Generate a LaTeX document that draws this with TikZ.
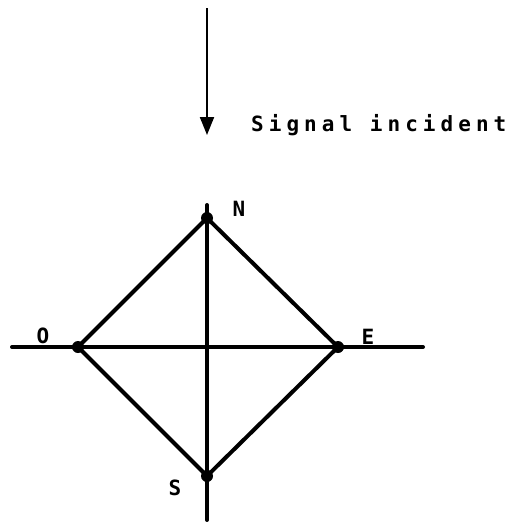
\documentclass[tikz,border=0pt]{standalone}
\usepackage{fontspec}
\setmonofont{DejaVu Sans Mono}
\usetikzlibrary{arrows.meta}
\tikzset{
  thick line/.style={line width=4pt, line cap=round},
  vertex/.style={circle, fill=black, inner sep=0pt, minimum size=12pt},
  lbl/.style={font=\fontsize{21}{21}\ttfamily\bfseries, inner sep=0pt},
}
\begin{document}
\begin{tikzpicture}[x=1pt,y=-1pt]
\useasboundingbox (0,0) rectangle (507,522);
% incident signal arrow
\coordinate (atop) at (207,8);
\coordinate (atip) at (207,135);
\draw[line width=2pt, -{Triangle[length=18pt,width=14pt]}] (atop) -- (atip);
\node[lbl, anchor=west] (sig) at (251,125) {\addfontfeatures{LetterSpace=24}Signal incident};
% axes
\coordinate (vt) at (207,205);
\coordinate (vb) at (207,520);
\coordinate (hl) at (12,347);
\coordinate (hr) at (423,347);
\draw[thick line] (vt) -- (vb);
\draw[thick line] (hl) -- (hr);
% diamond vertices
\node[vertex] (N) at (207,218) {};
\node[vertex] (O) at (78,347) {};
\node[vertex] (E) at (338,347) {};
\node[vertex] (S) at (207,476) {};
\draw[thick line, line join=round] (N.center) -- (E.center) -- (S.center) -- (O.center) -- cycle;
% labels
\node[lbl] (Nl) at (239,209) {N};
\node[lbl] (Ol) at (43,336) {O};
\node[lbl] (El) at (368,337) {E};
\node[lbl] (Sl) at (175,488) {S};
\end{tikzpicture}
\end{document}
